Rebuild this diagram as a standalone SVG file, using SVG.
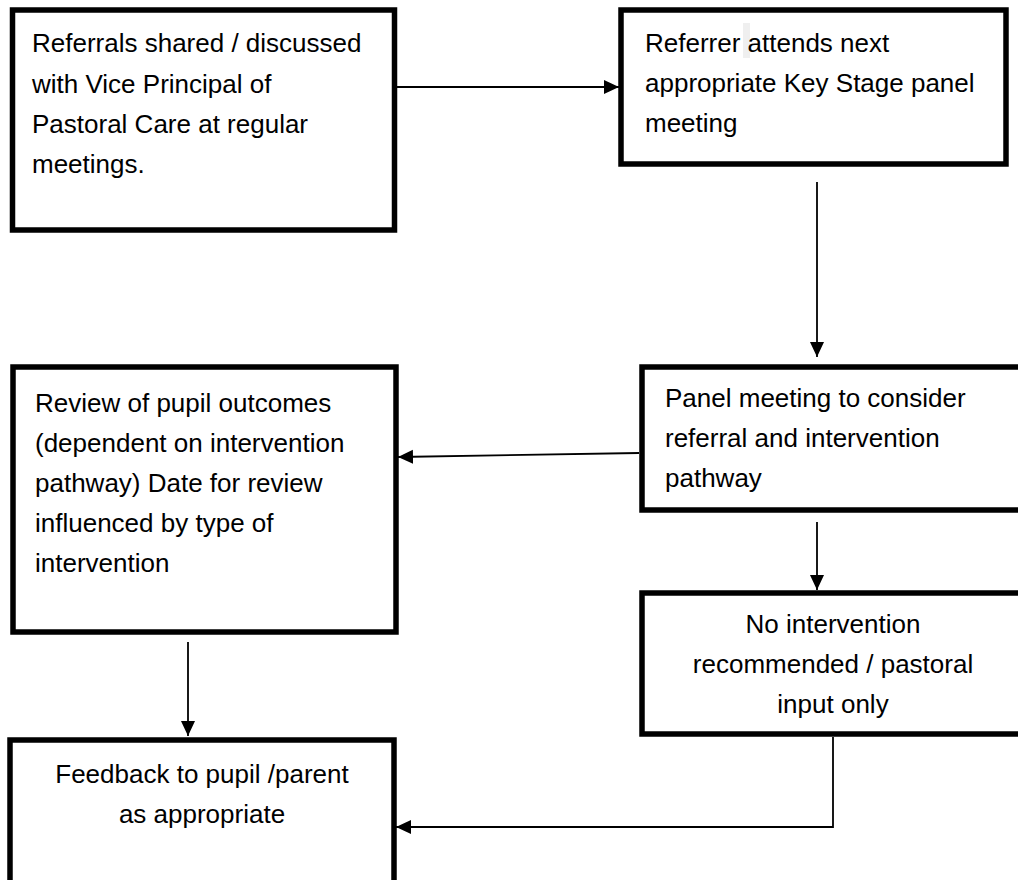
<svg xmlns="http://www.w3.org/2000/svg" width="1018" height="880" viewBox="0 0 1018 880">
  <style>
    .box { fill: #ffffff; stroke: #000000; stroke-width: 5.5; }
    .lbl { font-family: "Liberation Sans", Arial, sans-serif; font-size: 26px; fill: #000000; }
    .mid { text-anchor: middle; }
    .conn { fill: none; stroke: #000000; stroke-width: 1.8; }
  </style>
  <defs>
    <marker id="arrow" markerUnits="userSpaceOnUse" markerWidth="16" markerHeight="15" refX="15" refY="7" orient="auto">
      <path d="M0,0 L15,7 L0,14 Z" fill="#000000"/>
    </marker>
  </defs>
  <rect width="1018" height="880" fill="#ffffff"/>

  <g id="node-referrals">
    <rect class="box" x="12.5" y="10" width="382" height="220"/>
    <text class="lbl" x="32" y="52">Referrals shared / discussed</text>
    <text class="lbl" x="32" y="92.5">with Vice Principal of</text>
    <text class="lbl" x="32" y="133">Pastoral Care at regular</text>
    <text class="lbl" x="32" y="173">meetings.</text>
  </g>

  <g id="node-referrer">
    <rect class="box" x="621" y="10" width="385" height="154"/>
    <rect x="743" y="23" width="7" height="35" fill="#efefef"/>
    <text class="lbl" x="645" y="52">Referrer attends next</text>
    <text class="lbl" x="645" y="92">appropriate Key Stage panel</text>
    <text class="lbl" x="645" y="132">meeting</text>
  </g>

  <g id="node-panel">
    <rect class="box" x="642" y="367" width="400" height="143"/>
    <text class="lbl" x="665" y="407">Panel meeting to consider</text>
    <text class="lbl" x="665" y="447">referral and intervention</text>
    <text class="lbl" x="665" y="487">pathway</text>
  </g>

  <g id="node-no-intervention">
    <rect class="box" x="642" y="593" width="400" height="141"/>
    <text class="lbl mid" x="833" y="633">No intervention</text>
    <text class="lbl mid" x="833" y="673">recommended / pastoral</text>
    <text class="lbl mid" x="833" y="713">input only</text>
  </g>

  <g id="node-review">
    <rect class="box" x="13" y="367" width="383" height="265"/>
    <text class="lbl" x="35" y="412">Review of pupil outcomes</text>
    <text class="lbl" x="35" y="452">(dependent on intervention</text>
    <text class="lbl" x="35" y="492">pathway) Date for review</text>
    <text class="lbl" x="35" y="532">influenced by type of</text>
    <text class="lbl" x="35" y="572">intervention</text>
  </g>

  <g id="node-feedback">
    <rect class="box" x="10" y="740" width="384" height="160"/>
    <text class="lbl mid" x="202" y="783">Feedback to pupil /parent</text>
    <text class="lbl mid" x="202" y="823">as appropriate</text>
  </g>

  <g id="connectors">
    <line class="conn" x1="397" y1="87" x2="619" y2="87" marker-end="url(#arrow)"/>
    <line class="conn" x1="817" y1="182" x2="817" y2="357" marker-end="url(#arrow)"/>
    <line class="conn" x1="639" y1="453" x2="398" y2="457" marker-end="url(#arrow)"/>
    <line class="conn" x1="817" y1="522" x2="817" y2="590" marker-end="url(#arrow)"/>
    <line class="conn" x1="188" y1="642" x2="188" y2="736" marker-end="url(#arrow)"/>
    <polyline class="conn" points="833,737 833,827 396,827" marker-end="url(#arrow)"/>
  </g>
</svg>
